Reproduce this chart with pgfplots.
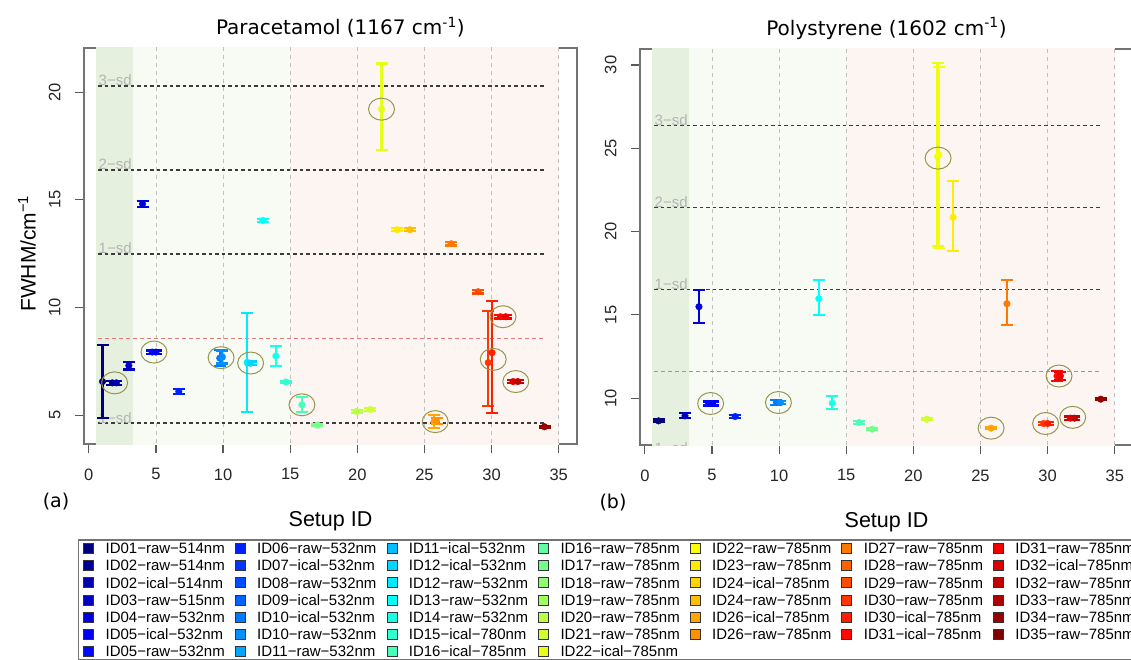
\documentclass[border=0pt]{standalone}
\usepackage{fontspec}
\setmainfont{Liberation Sans}
\newfontfamily\dejavu{DejaVu Sans}
\usepackage{pgfplots}
\pgfplotsset{compat=1.18}

% jet-like palette, one colour per setup
\definecolor{ID01r}{RGB}{0,0,127}
\definecolor{ID02r}{RGB}{0,0,150}
\definecolor{ID02i}{RGB}{0,0,172}
\definecolor{ID03r}{RGB}{0,0,195}
\definecolor{ID04r}{RGB}{0,0,218}
\definecolor{ID05i}{RGB}{0,0,241}
\definecolor{ID05r}{RGB}{0,8,255}
\definecolor{ID06r}{RGB}{0,31,255}
\definecolor{ID07i}{RGB}{0,54,255}
\definecolor{ID08r}{RGB}{0,76,255}
\definecolor{ID09i}{RGB}{0,99,255}
\definecolor{ID10i}{RGB}{0,122,255}
\definecolor{ID10r}{RGB}{0,144,255}
\definecolor{ID11r}{RGB}{0,167,255}
\definecolor{ID11i}{RGB}{0,190,255}
\definecolor{ID12i}{RGB}{0,212,255}
\definecolor{ID12r}{RGB}{0,235,255}
\definecolor{ID13r}{RGB}{3,255,252}
\definecolor{ID14r}{RGB}{25,255,230}
\definecolor{ID15i}{RGB}{48,255,207}
\definecolor{ID16i}{RGB}{71,255,184}
\definecolor{ID16r}{RGB}{93,255,162}
\definecolor{ID17r}{RGB}{116,255,139}
\definecolor{ID18r}{RGB}{138,255,116}
\definecolor{ID19r}{RGB}{161,255,93}
\definecolor{ID20r}{RGB}{184,255,71}
\definecolor{ID21r}{RGB}{207,255,48}
\definecolor{ID22i}{RGB}{229,255,25}
\definecolor{ID22r}{RGB}{252,255,3}
\definecolor{ID23r}{RGB}{255,235,0}
\definecolor{ID24i}{RGB}{255,212,0}
\definecolor{ID24r}{RGB}{255,190,0}
\definecolor{ID26i}{RGB}{255,167,0}
\definecolor{ID26r}{RGB}{255,144,0}
\definecolor{ID27r}{RGB}{255,121,0}
\definecolor{ID28r}{RGB}{255,99,0}
\definecolor{ID29r}{RGB}{255,76,0}
\definecolor{ID30r}{RGB}{255,54,0}
\definecolor{ID30i}{RGB}{255,31,0}
\definecolor{ID31i}{RGB}{255,8,0}
\definecolor{ID31r}{RGB}{241,0,0}
\definecolor{ID32i}{RGB}{218,0,0}
\definecolor{ID32r}{RGB}{195,0,0}
\definecolor{ID33r}{RGB}{173,0,0}
\definecolor{ID34r}{RGB}{150,0,0}
\definecolor{ID35r}{RGB}{127,0,0}

\definecolor{bandA}{RGB}{230,240,222}
\definecolor{bandB}{RGB}{247,251,243}
\definecolor{bandC}{RGB}{252,245,242}
\definecolor{hlc}{RGB}{150,150,80}
\definecolor{sdc}{RGB}{60,60,60}
\definecolor{sdtxt}{RGB}{180,180,180}
\definecolor{meanc}{RGB}{230,120,120}

\pgfplotsset{
  panel/.style={
    scale only axis, width=493pt, height=396pt,
    xmin=-0.36, xmax=36.36,
    xtick={0,5,...,35},
    xtick pos=bottom, ytick pos=left,
    tick align=outside, major tick length=9pt,
    tick style={color=black!65, line width=1.2pt},
    axis line style={color=black!55, line width=1.6pt},
    tick label style={font=\fontsize{16.5}{19}\selectfont, color=black!85},
    /pgf/number format/assume math mode=true,
    yticklabel style={rotate=90, anchor=south},
    xticklabel shift=12pt, yticklabel shift=11pt,
    every axis title shift=0pt,
    title style={font=\dejavu\fontsize{20}{24}\selectfont, anchor=center},
    xlabel style={font=\fontsize{21.5}{25}\selectfont,
      at={(axis description cs:0.5,-0.195)}, anchor=center},
    ylabel style={font=\fontsize{21}{25}\selectfont,
      at={(axis description cs:-0.1156,0.481)}, anchor=center},
  },
  dat/.style={color=#1, mark=*, mark size=3.3pt, only marks, forget plot,
    /pgfplots/error bars/y dir=both, /pgfplots/error bars/y explicit,
    /pgfplots/error bars/error bar style={line width=2.1pt, color=#1},
    /pgfplots/error bars/error mark options={rotate=90, line width=2.1pt, mark size=6pt, color=#1}},
  hl/.style={only marks, mark=o, forget plot, mark size=11pt,
    mark options={xscale=1.18, line width=1pt, draw=hlc}},
  band/.style={fill=#1, draw=none, forget plot},
  vgrid/.style={forget plot, color=black!25, line width=0.8pt, dash pattern=on 4pt off 4pt},
  sdline/.style={forget plot, color=sdc, line width=1.4pt, dash pattern=on 3.5pt off 3pt},
  meanline/.style={forget plot, color=meanc, line width=0.9pt, dash pattern=on 4pt off 3pt},
  legsq/.style={legend image code/.code={
    \path[draw=none, fill=none] (0pt,0pt) -- (22pt,0pt);
    \draw[fill=#1, draw=black!80, line width=0.7pt] (0pt,-5pt) rectangle (10pt,5pt);}},
}
\newcommand{\leg}[2]{\addlegendimage{legsq=#1}%
  \addlegendentry{\makebox[129.3pt][l]{#2}}}

\begin{document}
\begin{tikzpicture}

% (a) Paracetamol
\begin{axis}[panel,
  at={(84pt,215pt)}, anchor=south west,
  ymin=3.66, ymax=22.05, ytick={5,10,15,20},
  title={Paracetamol (1167 cm\textsuperscript{-1})},
  title style={at={(axis description cs:0.52,1.052)}},
  xlabel={Setup ID},
  ylabel={FWHM/cm\textsuperscript{−1}},
  extra description/.code={
    \node[font=\dejavu\fontsize{19}{23}\selectfont] at (axis description cs:-0.0568,-0.1465) {(a)};},
  legend columns=7,
  legend cell align=left,
  legend style={at={(axis description cs:-0.0122,-0.2399)}, anchor=north west,
    draw=black!55, line width=1.5pt, fill=white,
    inner xsep=4.5pt, inner ysep=0pt,
    /tikz/column sep=0pt, /tikz/row sep=0pt,
    nodes={inner sep=0pt, text height=14pt, text depth=3.2pt},
    font=\fontsize{15}{17}\selectfont},
]
\addplot[band=bandA] coordinates {(0.55,0) (0.55,40) (3.3,40) (3.3,0)} -- cycle;
\addplot[band=bandB] coordinates {(3.3,0) (3.3,40) (15,40) (15,0)} -- cycle;
\addplot[band=bandC] coordinates {(15,0) (15,40) (35,40) (35,0)} -- cycle;
\addplot[vgrid] coordinates {(5,0) (5,40)};
\addplot[vgrid] coordinates {(10,0) (10,40)};
\addplot[vgrid] coordinates {(15,0) (15,40)};
\addplot[vgrid] coordinates {(20,0) (20,40)};
\addplot[vgrid] coordinates {(25,0) (25,40)};
\addplot[vgrid] coordinates {(30,0) (30,40)};
\addplot[vgrid] coordinates {(35,0) (35,40)};
\addplot[sdline] coordinates {(0.7,20.29) (34,20.29)};
\addplot[sdline] coordinates {(0.7,16.39) (34,16.39)};
\addplot[sdline] coordinates {(0.7,12.49) (34,12.49)};
\addplot[sdline] coordinates {(0.7,4.63) (34,4.63)};
\addplot[meanline] coordinates {(0.7,8.56) (34,8.56)};
\node[anchor=base west, inner sep=0pt, text=sdtxt, font=\fontsize{15}{17}\selectfont] at (axis cs:0.72,20.29) {3−sd};
\node[anchor=base west, inner sep=0pt, text=sdtxt, font=\fontsize{15}{17}\selectfont] at (axis cs:0.72,16.39) {2−sd};
\node[anchor=base west, inner sep=0pt, text=sdtxt, font=\fontsize{15}{17}\selectfont] at (axis cs:0.72,12.49) {1−sd};
\node[anchor=base west, inner sep=0pt, text=sdtxt, font=\fontsize{15}{17}\selectfont] at (axis cs:0.72,4.63) {1−sd};

\addplot[dat=ID01r] coordinates {(1.02,6.56) +- (0,1.70)};
\addplot[dat=ID02r] coordinates {(1.75,6.50) +- (0,0.08)};
\addplot[dat=ID02i] coordinates {(2.05,6.50) +- (0,0.08)};
\addplot[dat=ID03r] coordinates {(2.98,7.30) +- (0,0.18)};
\addplot[dat=ID04r] coordinates {(4.00,14.81) +- (0,0.15)};
\addplot[dat=ID05r] coordinates {(4.72,7.93) +- (0,0.07)};
\addplot[dat=ID05i] coordinates {(5.00,7.93) +- (0,0.07)};
\addplot[dat=ID06r] coordinates {(6.70,6.10) +- (0,0.12)};
\addplot[dat=ID10i] coordinates {(9.75,7.65) +- (0,0.38)};
\addplot[dat=ID10r] coordinates {(9.95,7.70) +- (0,0.30)};
\addplot[dat=ID12r] coordinates {(11.80,7.45) +- (0,2.30)};
\addplot[dat=ID12i] coordinates {(12.05,7.41) +- (0,0.08)};
\addplot[dat=ID13r] coordinates {(12.97,14.04) +- (0,0.08)};
\addplot[dat=ID14r] coordinates {(13.93,7.75) +- (0,0.45)};
\addplot[dat=ID15i] coordinates {(14.68,6.54) +- (0,0.06)};
\addplot[dat=ID16i] coordinates {(15.87,5.48) +- (0,0.35)};
\addplot[dat=ID17r] coordinates {(17.03,4.54) +- (0,0.05)};
\addplot[dat=ID20r] coordinates {(19.95,5.17) +- (0,0.06)};
\addplot[dat=ID21r] coordinates {(20.97,5.26) +- (0,0.06)};
\addplot[dat=ID22i] coordinates {(21.80,19.21) += (0,2.12) -= (0,1.90)};
\addplot[dat=ID23r] coordinates {(22.98,13.61) +- (0,0.07)};
\addplot[dat=ID24r] coordinates {(23.92,13.61) +- (0,0.07)};
\addplot[dat=ID26i] coordinates {(25.70,4.69) +- (0,0.30)};
\addplot[dat=ID26r] coordinates {(25.90,4.72) +- (0,0.15)};
\addplot[dat=ID27r] coordinates {(26.99,12.96) +- (0,0.08)};
\addplot[dat=ID29r] coordinates {(29.00,10.73) +- (0,0.08)};
\addplot[dat=ID30r] coordinates {(29.75,7.44) += (0,2.39) -= (0,2.01)};
\addplot[dat=ID30i] coordinates {(30.03,7.90) += (0,2.39) -= (0,2.78)};
\addplot[dat=ID31i] coordinates {(30.65,9.57) +- (0,0.08)};
\addplot[dat=ID31r] coordinates {(31.05,9.57) +- (0,0.08)};
\addplot[dat=ID32i] coordinates {(31.60,6.56) +- (0,0.07)};
\addplot[dat=ID32r] coordinates {(31.95,6.56) +- (0,0.07)};
\addplot[dat=ID34r] coordinates {(33.94,4.46) +- (0,0.04)};

\addplot[hl] coordinates {(1.92,6.50) (4.85,7.93) (9.85,7.67) (12.05,7.42)
  (15.87,5.48) (21.80,19.21) (25.80,4.70) (30.12,7.59) (30.85,9.57) (31.80,6.56)};

% legend, row by row (7 columns)
\leg{ID01r}{ID01−raw−514nm}\leg{ID06r}{ID06−raw−532nm}\leg{ID11i}{ID11−ical−532nm}\leg{ID16r}{ID16−raw−785nm}\leg{ID22r}{ID22−raw−785nm}\leg{ID27r}{ID27−raw−785nm}\leg{ID31r}{ID31−raw−785nm}
\leg{ID02r}{ID02−raw−514nm}\leg{ID07i}{ID07−ical−532nm}\leg{ID12i}{ID12−ical−532nm}\leg{ID17r}{ID17−raw−785nm}\leg{ID23r}{ID23−raw−785nm}\leg{ID28r}{ID28−raw−785nm}\leg{ID32i}{ID32−ical−785nm}
\leg{ID02i}{ID02−ical−514nm}\leg{ID08r}{ID08−raw−532nm}\leg{ID12r}{ID12−raw−532nm}\leg{ID18r}{ID18−raw−785nm}\leg{ID24i}{ID24−ical−785nm}\leg{ID29r}{ID29−raw−785nm}\leg{ID32r}{ID32−raw−785nm}
\leg{ID03r}{ID03−raw−515nm}\leg{ID09i}{ID09−ical−532nm}\leg{ID13r}{ID13−raw−532nm}\leg{ID19r}{ID19−raw−785nm}\leg{ID24r}{ID24−raw−785nm}\leg{ID30r}{ID30−raw−785nm}\leg{ID33r}{ID33−raw−785nm}
\leg{ID04r}{ID04−raw−532nm}\leg{ID10i}{ID10−ical−532nm}\leg{ID14r}{ID14−raw−532nm}\leg{ID20r}{ID20−raw−785nm}\leg{ID26i}{ID26−ical−785nm}\leg{ID30i}{ID30−ical−785nm}\leg{ID34r}{ID34−raw−785nm}
\leg{ID05i}{ID05−ical−532nm}\leg{ID10r}{ID10−raw−532nm}\leg{ID15i}{ID15−ical−780nm}\leg{ID21r}{ID21−raw−785nm}\leg{ID26r}{ID26−raw−785nm}\leg{ID31i}{ID31−ical−785nm}\leg{ID35r}{ID35−raw−785nm}
\leg{ID05r}{ID05−raw−532nm}\leg{ID11r}{ID11−raw−532nm}\leg{ID16i}{ID16−ical−785nm}\leg{ID22i}{ID22−ical−785nm}
\end{axis}

% (b) Polystyrene
\begin{axis}[panel,
  at={(640pt,214pt)}, anchor=south west,
  ymin=7.19, ymax=30.96, ytick={10,15,...,30},
  title={Polystyrene (1602 cm\textsuperscript{-1})},
  title style={at={(axis description cs:0.5,1.052)}},
  xlabel={Setup ID},
  extra description/.code={
    \node[font=\dejavu\fontsize{19}{23}\selectfont] at (axis description cs:-0.0548,-0.1465) {(b)};},
]
\addplot[band=bandA] coordinates {(0.55,0) (0.55,40) (3.3,40) (3.3,0)} -- cycle;
\addplot[band=bandB] coordinates {(3.3,0) (3.3,40) (15,40) (15,0)} -- cycle;
\addplot[band=bandC] coordinates {(15,0) (15,40) (35,40) (35,0)} -- cycle;
\addplot[vgrid] coordinates {(5,0) (5,40)};
\addplot[vgrid] coordinates {(10,0) (10,40)};
\addplot[vgrid] coordinates {(15,0) (15,40)};
\addplot[vgrid] coordinates {(20,0) (20,40)};
\addplot[vgrid] coordinates {(25,0) (25,40)};
\addplot[vgrid] coordinates {(30,0) (30,40)};
\addplot[vgrid] coordinates {(35,0) (35,40)};
\addplot[sdline] coordinates {(0.7,26.37) (34,26.37)};
\addplot[sdline] coordinates {(0.7,21.46) (34,21.46)};
\addplot[sdline] coordinates {(0.7,16.53) (34,16.53)};
\addplot[sdline] coordinates {(0.7,6.67) (34,6.67)};
\addplot[meanline] coordinates {(0.7,11.60) (34,11.60)};
\node[anchor=base west, inner sep=0pt, text=sdtxt, font=\fontsize{15}{17}\selectfont] at (axis cs:0.72,26.37) {3−sd};
\node[anchor=base west, inner sep=0pt, text=sdtxt, font=\fontsize{15}{17}\selectfont] at (axis cs:0.72,21.46) {2−sd};
\node[anchor=base west, inner sep=0pt, text=sdtxt, font=\fontsize{15}{17}\selectfont] at (axis cs:0.72,16.53) {1−sd};
\node[anchor=base west, inner sep=0pt, text=sdtxt, font=\fontsize{15}{17}\selectfont] at (axis cs:0.72,6.67) {1−sd};

\addplot[dat=ID01r] coordinates {(1.02,8.64) +- (0,0.08)};
\addplot[dat=ID03r] coordinates {(2.99,8.94) +- (0,0.15)};
\addplot[dat=ID04r] coordinates {(4.03,15.49) +- (0,0.98)};
\addplot[dat=ID05r] coordinates {(4.75,9.68) +- (0,0.12)};
\addplot[dat=ID05i] coordinates {(5.05,9.68) +- (0,0.12)};
\addplot[dat=ID06r] coordinates {(6.73,8.90) +- (0,0.08)};
\addplot[dat=ID10i] coordinates {(9.80,9.74) +- (0,0.13)};
\addplot[dat=ID10r] coordinates {(10.10,9.74) +- (0,0.10)};
\addplot[dat=ID13r] coordinates {(12.96,15.97) += (0,1.12) -= (0,1.00)};
\addplot[dat=ID14r] coordinates {(13.96,9.70) += (0,0.44) -= (0,0.36)};
\addplot[dat=ID16i] coordinates {(15.97,8.54) +- (0,0.07)};
\addplot[dat=ID17r] coordinates {(16.94,8.14) +- (0,0.07)};
\addplot[dat=ID21r] coordinates {(21.00,8.74) +- (0,0.05)};
\addplot[dat=ID22i] coordinates {(21.80,24.50) += (0,5.60) -= (0,5.38)};
\addplot[dat=ID22r] coordinates {(21.90,24.60) += (0,5.30) -= (0,5.60)};
\addplot[dat=ID23r] coordinates {(22.96,20.86) += (0,2.15) -= (0,2.04)};
\addplot[dat=ID26i] coordinates {(25.79,8.20) +- (0,0.06)};
\addplot[dat=ID27r] coordinates {(26.97,15.67) += (0,1.42) -= (0,1.30)};
\addplot[dat=ID30r] coordinates {(29.70,8.48) +- (0,0.10)};
\addplot[dat=ID30i] coordinates {(30.00,8.48) +- (0,0.10)};
\addplot[dat=ID31i] coordinates {(30.70,11.33) +- (0,0.30)};
\addplot[dat=ID31r] coordinates {(30.95,11.33) +- (0,0.25)};
\addplot[dat=ID32i] coordinates {(31.70,8.80) +- (0,0.10)};
\addplot[dat=ID32r] coordinates {(32.00,8.80) +- (0,0.10)};
\addplot[dat=ID34r] coordinates {(33.96,9.94) +- (0,0.05)};

\addplot[hl] coordinates {(4.90,9.68) (9.95,9.74) (21.84,24.41) (25.79,8.20)
  (29.85,8.48) (30.85,11.33) (31.87,8.85)};
\end{axis}

\pgfresetboundingbox
\path[use as bounding box] (0,0) rectangle (1131pt,659pt);
\end{tikzpicture}
\end{document}
